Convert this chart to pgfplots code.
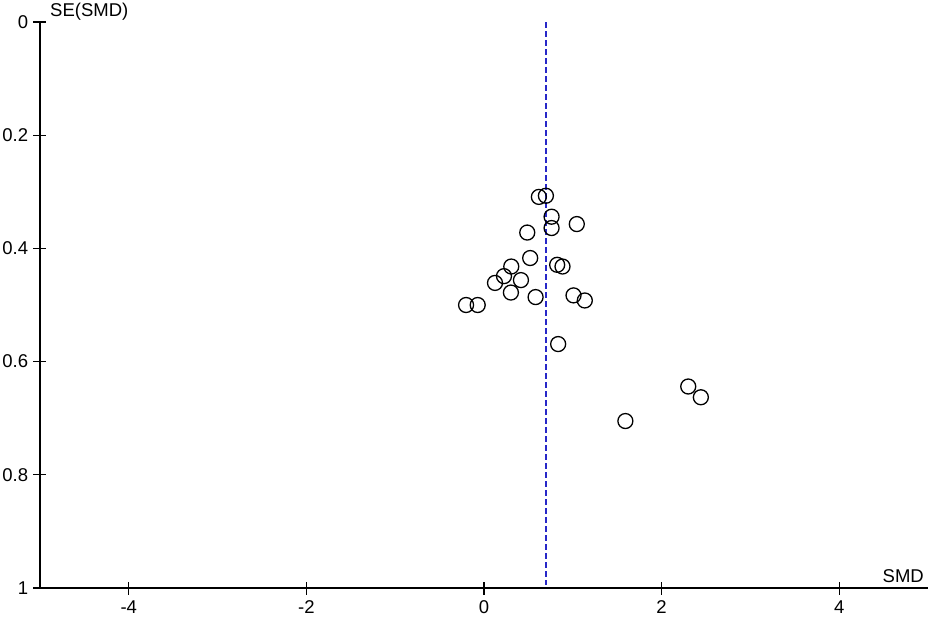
\documentclass[border=0pt]{standalone}
\usepackage{fontspec}
\setmainfont{Liberation Sans}
\usepackage{pgfplots}
\pgfplotsset{compat=1.18}

\begin{document}
\fontsize{18.5}{21}\selectfont
\begin{tikzpicture}
    \begin{axis}[
            scale only axis,
            width=888pt, height=566pt,
            xmin=-5, xmax=5,
            ymin=0, ymax=1,
            y dir=reverse,
            axis x line=bottom,
            axis y line=left,
            axis line style={-, line width=1.6pt},
            xtick={-4,-2,0,2,4},
            ytick={0,0.2,0.4,0.6,0.8,1},
            xtick align=center,
            ytick align=center,
            major tick length=13pt,
            tick style={black, line width=1.3pt},
            x tick label style={yshift=0pt},
            y tick label style={xshift=1pt},
            /pgf/number format/assume math mode=true,
            clip=false
        ]

        % pooled estimate
        \addplot[line width=1.4pt, color={rgb,255:red,40;green,40;blue,200}, dash pattern=on 6pt off 3pt] coordinates {(0.70,0) (0.70,0.995)};

        % individual studies
        \addplot[only marks, mark=o, mark size=7.5pt, line width=1.3pt, black] coordinates {
            (0.618,0.309) (0.697,0.307) (0.761,0.344) (0.761,0.364) (1.045,0.357)
            (0.487,0.372) (0.520,0.417) (0.824,0.429) (0.884,0.432) (0.307,0.432)
            (0.225,0.449) (0.416,0.456) (0.124,0.461) (0.303,0.478) (0.581,0.486)
            (1.008,0.483) (1.135,0.492) (-0.202,0.500) (-0.071,0.500) (0.835,0.569)
            (2.300,0.644) (2.442,0.663) (1.592,0.705)
        };

        \node[anchor=base west, inner sep=0pt] at (axis cs:-5,0) [xshift=10pt, yshift=6pt] {SE(SMD)};
        \node[anchor=base east, inner sep=0pt] at (axis cs:5,1) [xshift=-4pt, yshift=6pt] {SMD};
    \end{axis}
    \pgfresetboundingbox
    \path (-40pt,-28pt) rectangle (891pt,588pt);
\end{tikzpicture}
\end{document}
